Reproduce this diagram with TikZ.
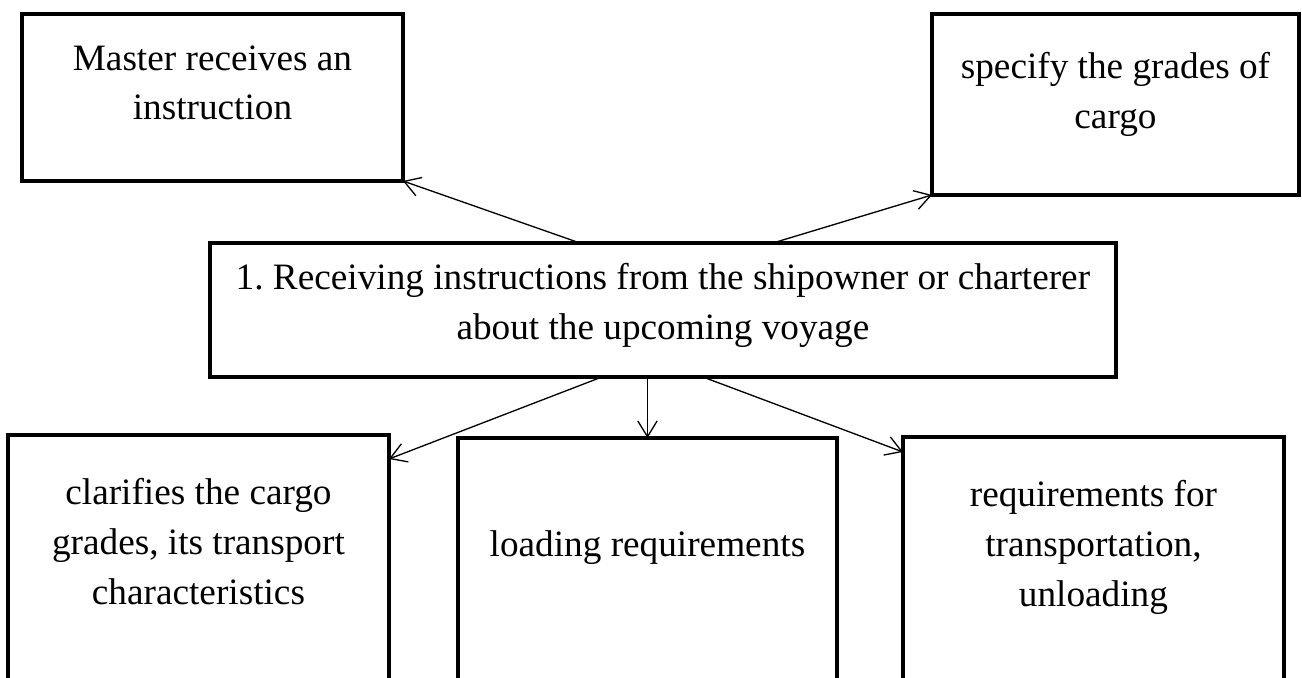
\documentclass[tikz,border=0pt]{standalone}
\usepackage{fontspec}
\setmainfont{Liberation Serif}
\usetikzlibrary{positioning,arrows.meta}

\begin{document}
\begin{tikzpicture}
    [x=0.02cm,y=-0.02cm,
     >={Straight Barb[length=9pt,width=11pt]},
     box/.style={draw,line width=2.3pt,inner sep=0pt,outer sep=0pt,anchor=north west},
     txt/.style={align=center,inner sep=0pt,font=\fontsize{21.2}{28.45}\selectfont},
     link/.style={->,line width=0.75pt}]
\useasboundingbox (0,0) rectangle (1302,677);
\clip (0,0) rectangle (1302,677);
\path
    (22,14) node [box,minimum width=7.62cm,minimum height=3.34cm] (master) {}
    (932,14) node [box,minimum width=7.34cm,minimum height=3.62cm] (grades) {}
    (210,243) node [box,minimum width=18.12cm,minimum height=2.68cm] (receive) {}
    (8,435) node [box,minimum width=7.62cm,minimum height=6cm] (clarify) {}
    (458,438) node [box,minimum width=7.58cm,minimum height=6cm] (loading) {}
    (903,437) node [box,minimum width=7.62cm,minimum height=6cm] (transport) {};
\node [txt,below=0.62cm of master.north] (mastertext) {Master receives an\\instruction};
\node [txt,below=0.76cm of grades.north] (gradestext) {specify the grades of\\cargo};
\node [txt,below=0.4cm of receive.north] (receivetext)
    {1.\ Receiving instructions from the shipowner or charterer\\about the upcoming voyage};
\node [txt,below=0.86cm of clarify.north] (clarifytext)
    {clarifies the cargo\\grades, its transport\\characteristics};
\node [txt,below=1.84cm of loading.north] (loadingtext) {loading requirements};
\node [txt,below=0.86cm of transport.north] (transporttext)
    {requirements for\\transportation,\\unloading};
% up to the two upper boxes
\draw [link] ([xshift=-1.66cm]receive.north) -- (master.south east);
\draw [link] ([xshift=2.2cm]receive.north) -- (grades.south west);
% down to the three lower boxes
\draw [link] ([xshift=-1.22cm]receive.south) -- ([yshift=-0.48cm]clarify.north east);
\draw [link] (receive.south -| loading.north) -- (loading.north);
\draw [link] ([xshift=0.8cm]receive.south) -- ([yshift=-0.3cm]transport.north west);
\end{tikzpicture}
\end{document}
